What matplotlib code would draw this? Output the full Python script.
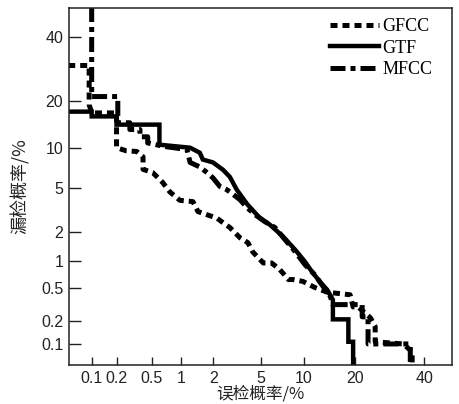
import numpy as np
import matplotlib
matplotlib.use("Agg")
import matplotlib.pyplot as plt
from statistics import NormalDist

# ---- data (percent) ----
gfcc_far = [0.05, 0.093, 0.093, 0.1, 0.2, 0.2, 0.26, 0.34, 0.4, 0.4, 0.51, 0.65, 0.77, 0.97, 1.3,
            1.45, 1.76, 2.16, 2.44, 2.8, 3.4, 3.95, 4.3, 5.2, 6.0, 6.9, 7.9, 8.5, 9.9, 11.8, 14.0,
            18.8, 19.5, 20.7, 23.8, 25.1, 25.1, 33.3, 36.1, 36.1]
gfcc_miss = [30.3, 30.3, 19.0, 17.0, 17.0, 10.1, 9.6, 9.5, 8.7, 7.0, 6.6, 5.5, 4.6, 3.9, 3.8,
             3.1, 2.9, 2.7, 2.45, 2.2, 1.75, 1.56, 1.26, 0.96, 0.96, 0.81, 0.63, 0.63, 0.6, 0.51, 0.45,
             0.42, 0.3, 0.3, 0.22, 0.17, 0.107, 0.1, 0.078, 0.05]

gtf_far = [0.05, 0.1, 0.1, 0.2, 0.2, 0.6, 0.6, 1.22, 1.51, 1.61, 1.99, 2.44, 2.8, 3.2, 3.9, 4.9,
           5.8, 7.25, 8.8, 10.2, 11.3, 12.7, 14.0, 15.1, 15.1, 18.4, 18.4, 19.5, 19.5]
gtf_miss = [17.3, 17.3, 16.2, 16.2, 14.4, 14.4, 10.6, 10.1, 9.3, 8.3, 7.9, 6.95, 6.1, 4.8, 3.6, 2.7,
            2.35, 1.8, 1.32, 0.99, 0.77, 0.59, 0.48, 0.365, 0.21, 0.21, 0.107, 0.107, 0.05]

mfcc_far = [0.1, 0.1, 0.207, 0.207, 0.285, 0.285, 0.37, 0.37, 0.45, 0.45, 0.68, 1.14, 1.22, 1.51,
            1.76, 1.99, 2.3, 2.64, 2.97, 3.4, 3.9, 4.5, 5.35, 6.35, 7.5, 8.8, 10.2, 11.8, 13.0, 14.6,
            15.1, 21.7, 21.7, 23.2, 23.2, 35.5, 35.5]
mfcc_miss = [51.0, 21.1, 21.1, 14.8, 14.8, 13.4, 13.4, 12.0, 12.0, 10.9, 10.3, 9.8, 7.9, 7.3,
             6.6, 6.0, 5.1, 4.8, 4.4, 3.95, 3.35, 2.9, 2.5, 2.2, 1.67, 1.26, 0.92, 0.71, 0.55, 0.40,
             0.32, 0.32, 0.226, 0.226, 0.1, 0.1, 0.05]

tick_vals = [0.1, 0.2, 0.5, 1, 2, 5, 10, 20, 40]
tick_labels = ["0.1", "0.2", "0.5", "1", "2", "5", "10", "20", "40"]
series_names = ["GFCC", "GTF", "MFCC"]

# ---- probit scale ----
_nd = NormalDist()


def _fwd(p):
    p = np.asarray(p, dtype=float)
    f = np.vectorize(lambda v: _nd.inv_cdf(min(max(v / 100.0, 1e-12), 1 - 1e-12))
                     if np.isfinite(v) else np.nan, otypes=[float])
    return f(p)


def _inv(z):
    z = np.asarray(z, dtype=float)
    f = np.vectorize(lambda v: _nd.cdf(v) * 100.0 if np.isfinite(v) else np.nan, otypes=[float])
    return f(z)


fig = plt.figure(figsize=(4.59, 4.04), dpi=100)
ax = fig.add_axes([0.150, 0.0965, 0.835, 0.8835])
ax.set_xscale("function", functions=(_fwd, _inv))
ax.set_yscale("function", functions=(_fwd, _inv))

lw = 3.6
l1, = ax.plot(gfcc_far, gfcc_miss, color="black", lw=lw, linestyle=(0, (1.4, 1.0)),
              dash_capstyle="butt", solid_joinstyle="miter", label=series_names[0])
l2, = ax.plot(gtf_far, gtf_miss, color="black", lw=3.2, linestyle="-",
              solid_joinstyle="miter", label=series_names[1])
l3, = ax.plot(mfcc_far, mfcc_miss, color="black", lw=lw, linestyle=(0, (3, 1, 1, 1)),
              dash_capstyle="butt", label=series_names[2])

ax.set_xlim(0.051, 49.4)
ax.set_ylim(0.051, 50.6)
ax.set_xticks(tick_vals)
ax.set_xticklabels(tick_labels)
ax.set_yticks(tick_vals)
ax.set_yticklabels(tick_labels)
ax.xaxis.set_minor_locator(matplotlib.ticker.NullLocator())
ax.yaxis.set_minor_locator(matplotlib.ticker.NullLocator())

for lab in ax.get_xticklabels() + ax.get_yticklabels():
    lab.set_fontfamily(["Liberation Sans", "DejaVu Sans"])
    lab.set_fontsize(11.5)
    lab.set_color("#222222")

ax.tick_params(axis="x", direction="in", length=6, width=1.0, pad=4, top=False, color="#222222")
ax.tick_params(axis="y", direction="in", length=8.5, width=1.0, pad=4, right=False, color="#222222")
for s in ax.spines.values():
    s.set_linewidth(1.1)
    s.set_color("#222222")

cjk = ["Noto Sans CJK SC", "DejaVu Sans"]
ax.set_xlabel("误检概率/%", family=cjk, fontsize=12, color="#222222")
ax.xaxis.set_label_coords(0.5, -0.056)
ax.set_ylabel("漏检概率/%", family=cjk, fontsize=13, labelpad=8, color="#222222")

leg = ax.legend(handles=[l1, l2, l3], loc="upper left", bbox_to_anchor=(0.681, 0.972),
                frameon=False, borderpad=0, borderaxespad=0, handlelength=2.7,
                handletextpad=0.2, labelspacing=0.25,
                prop={"family": ["Liberation Serif", "DejaVu Serif"], "size": 13})

fig.savefig("out.png", dpi=100)
